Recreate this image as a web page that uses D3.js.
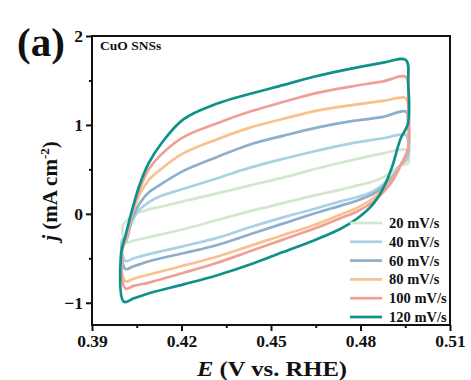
<!DOCTYPE html>
<html>
<head>
<meta charset="utf-8">
<script src="https://cdn.jsdelivr.net/npm/d3@7/dist/d3.min.js"></script>
<style>
  html, body { margin: 0; padding: 0; background: #fff; }
  svg { display: block; }
  text { font-family: "Liberation Serif", "Times New Roman", serif; font-weight: bold; fill: #111; }
</style>
</head>
<body>
<svg id="chart" width="471" height="380"></svg>
<script>
// ---------------- data ----------------
const seriesNames = ["20 mV/s", "40 mV/s", "60 mV/s", "80 mV/s", "100 mV/s", "120 mV/s"];
const seriesColors = ["#d3e6cf", "#a8d2e3", "#8eafcb", "#f9c18c", "#efa096", "#10908a"];

// left edge: bottom-left corner and left vertex (E, j)
const leftBottomE = [0.4012, 0.4012, 0.4012, 0.4012, 0.4012, 0.4007];
const leftBottomJ = [-0.32, -0.53, -0.62, -0.76, -0.84, -0.99];
const leftVertexE = [0.4003, 0.4000, 0.3999, 0.3998, 0.3998, 0.3997];
const leftVertexJ = [-0.14, -0.30, -0.38, -0.44, -0.47, -0.47];

// anodic (upper) branch, E grid
const eUp = [0.4015, 0.4035, 0.406, 0.409, 0.413, 0.4205, 0.432, 0.443, 0.4543, 0.4654, 0.4765, 0.4876, 0.4952];
const jUp20  = [-0.08, -0.02, 0.02, 0.05, 0.08, 0.14, 0.23, 0.32, 0.41, 0.51, 0.60, 0.68, 0.72];
const jUp40  = [-0.25, -0.08, 0.05, 0.13, 0.20, 0.28, 0.40, 0.52, 0.62, 0.71, 0.79, 0.85, 0.89];
const jUp60  = [-0.30, -0.05, 0.12, 0.24, 0.33, 0.48, 0.64, 0.78, 0.88, 0.97, 1.04, 1.09, 1.15];
const jUp80  = [-0.28, 0.00, 0.22, 0.38, 0.50, 0.68, 0.84, 0.97, 1.07, 1.16, 1.22, 1.27, 1.30];
const jUp100 = [-0.25, 0.03, 0.28, 0.50, 0.66, 0.86, 1.02, 1.15, 1.26, 1.36, 1.43, 1.49, 1.54];
const jUp120 = [-0.21, 0.05, 0.33, 0.57, 0.78, 1.06, 1.24, 1.35, 1.45, 1.55, 1.63, 1.70, 1.73];

// right edge (reversal), E grid
const eRight = [0.4960, 0.4963, 0.4958];
const jRight20  = [0.66, 0.60, 0.56];
const jRight40  = [0.80, 0.70, 0.62];
const jRight60  = [1.00, 0.85, 0.68];
const jRight80  = [1.10, 0.90, 0.70];
const jRight100 = [1.25, 0.95, 0.72];
const jRight120 = [1.45, 1.20, 1.00];

// cathodic (lower) branch, E grid (right to left)
const eDown = [0.4935, 0.4905, 0.4875, 0.484, 0.479, 0.4732, 0.465, 0.454, 0.443, 0.432, 0.421, 0.4094, 0.4040];
const jDown20  = [0.55, 0.47, 0.41, 0.36, 0.32, 0.27, 0.21, 0.12, 0.03, -0.07, -0.17, -0.26, -0.30];
const jDown40  = [0.55, 0.42, 0.33, 0.25, 0.19, 0.14, 0.06, -0.04, -0.15, -0.27, -0.36, -0.45, -0.50];
const jDown60  = [0.55, 0.40, 0.30, 0.22, 0.15, 0.09, 0.01, -0.11, -0.23, -0.35, -0.44, -0.53, -0.59];
const jDown80  = [0.55, 0.38, 0.27, 0.17, 0.07, -0.01, -0.12, -0.24, -0.36, -0.48, -0.58, -0.68, -0.73];
const jDown100 = [0.55, 0.36, 0.24, 0.13, 0.03, -0.05, -0.16, -0.29, -0.42, -0.55, -0.66, -0.77, -0.81];
const jDown120 = [0.85, 0.52, 0.28, 0.10, -0.05, -0.17, -0.29, -0.43, -0.57, -0.69, -0.79, -0.89, -0.95];

const upAll = [jUp20, jUp40, jUp60, jUp80, jUp100, jUp120];
const rightAll = [jRight20, jRight40, jRight60, jRight80, jRight100, jRight120];
const downAll = [jDown20, jDown40, jDown60, jDown80, jDown100, jDown120];

const xTicks = [0.39, 0.42, 0.45, 0.48, 0.51];
const xMinor = [0.405, 0.435, 0.465, 0.495];
const yTicks = [-1, 0, 1, 2];
const yMinor = [-0.5, 0.5, 1.5];

// ---------------- layout ----------------
const svg = d3.select("#chart");
const x = d3.scaleLinear().domain([0.39, 0.51]).range([92, 450]);
const y = d3.scaleLinear().domain([-1.25, 2]).range([325, 36]);

// curves
const line = d3.line().x(d => x(d[0])).y(d => y(d[1])).curve(d3.curveCatmullRomClosed.alpha(0.5));
const curvesG = svg.append("g");
seriesNames.forEach((name, i) => {
  const pts = [];
  pts.push([leftVertexE[i], leftVertexJ[i]]);
  eUp.forEach((e, k) => pts.push([e, upAll[i][k]]));
  eRight.forEach((e, k) => pts.push([e, rightAll[i][k]]));
  eDown.forEach((e, k) => pts.push([e, downAll[i][k]]));
  pts.push([leftBottomE[i], leftBottomJ[i]]);
  curvesG.append("path")
    .attr("d", line(pts))
    .attr("fill", "none")
    .attr("stroke", seriesColors[i])
    .attr("stroke-width", 2.7)
    .attr("stroke-linejoin", "round");
});

// frame
svg.append("rect").attr("x", 92).attr("y", 36).attr("width", 358).attr("height", 289)
  .attr("fill", "none").attr("stroke", "#111").attr("stroke-width", 2);

function styleAxis(g, withText) {
  g.select(".domain").remove();
  g.selectAll("line").attr("stroke", "#111").attr("stroke-width", 2);
  if (withText) {
    g.selectAll("text").style("font-size", "17.5px").style("font-family", "Liberation Serif")
      .style("font-weight", "bold").attr("fill", "#111");
  }
}

// x axis
const gx = svg.append("g").attr("transform", "translate(0,325)")
  .call(d3.axisBottom(x).tickValues(xTicks).tickSize(6).tickPadding(4).tickFormat(d3.format(".2f")));
styleAxis(gx, true);
const gxm = svg.append("g").attr("transform", "translate(0,325)")
  .call(d3.axisBottom(x).tickValues(xMinor).tickSize(3).tickFormat(""));
styleAxis(gxm, false);

// y axis
const gy = svg.append("g").attr("transform", "translate(92,0)")
  .call(d3.axisLeft(y).tickValues(yTicks).tickSize(6).tickPadding(3).tickFormat(d3.format("d")));
styleAxis(gy, true);
const gym = svg.append("g").attr("transform", "translate(92,0)")
  .call(d3.axisLeft(y).tickValues(yMinor).tickSize(3).tickFormat(""));
styleAxis(gym, false);

// x label
const xl = svg.append("text").attr("x", 272).attr("y", 376).attr("text-anchor", "middle")
  .style("font-size", "21px").attr("textLength", 150).attr("lengthAdjust", "spacingAndGlyphs");
xl.append("tspan").style("font-style", "italic").text("E");
xl.append("tspan").text(" (V vs. RHE)");

// y label
const yl = svg.append("text").attr("transform", "translate(57,191) rotate(-90)").attr("text-anchor", "middle")
  .style("font-size", "21px");
yl.append("tspan").style("font-style", "italic").text("j");
yl.append("tspan").text(" (mA cm");
yl.append("tspan").attr("dy", -8).style("font-size", "13px").text("-2");
yl.append("tspan").attr("dy", 8).text(")");

// panel label
svg.append("text").attr("x", 17).attr("y", 56).style("font-size", "41px").text("(a)");

// sample name
svg.append("text").attr("x", 100).attr("y", 50).style("font-size", "13.5px").text("CuO SNSs");

// legend
const lg = svg.append("g");
seriesNames.forEach((name, i) => {
  const yy = 223 + i * 18.8;
  lg.append("line").attr("x1", 350).attr("x2", 382).attr("y1", yy).attr("y2", yy)
    .attr("stroke", seriesColors[i]).attr("stroke-width", 2.7);
  lg.append("text").attr("x", 389).attr("y", yy + 5).style("font-size", "14.5px").text(name);
});
</script>
</body>
</html>
